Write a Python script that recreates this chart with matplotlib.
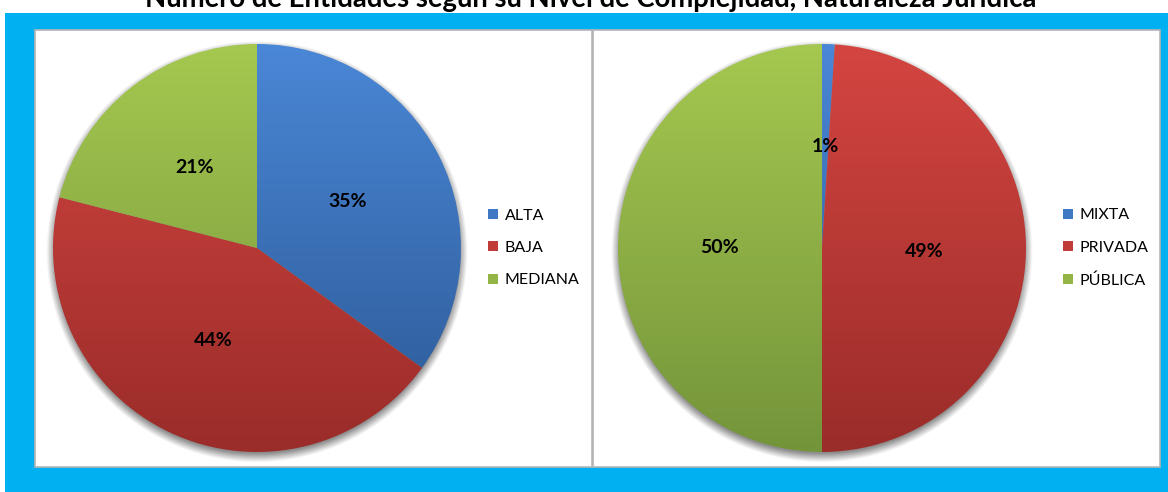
import numpy as np
import matplotlib.pyplot as plt
from matplotlib.colors import LinearSegmentedColormap
from matplotlib.patches import Rectangle, Patch

W, H = 1168, 492

TITLE = "Número de Entidades según su Nivel de Complejidad, Naturaleza Jurídica"

complejidad_labels = ["ALTA", "BAJA", "MEDIANA"]
complejidad_values = [35, 44, 21]

naturaleza_labels = ["MIXTA", "PRIVADA", "PÚBLICA"]
naturaleza_values = [1, 49, 50]

# (top, bottom) of the vertical gradient on each slice
SLICE_COLORS = [("#4a87d6", "#2b5894"), ("#d44541", "#9a2c29"), ("#a5c850", "#74943a")]
LEGEND_COLORS = ["#3f78c3", "#c13c39", "#93b546"]

plt.rcParams["font.family"] = ["Lato", "DejaVu Sans"]


def px_axes(fig, left, top, w, h):
    return fig.add_axes([left / W, 1 - (top + h) / H, w / W, h / H])


def draw_pie(fig, cx, cy, r, values, labels, legend_left):
    pad = 14
    ax = px_axes(fig, cx - r - pad, cy - r - pad, 2 * (r + pad), 2 * (r + pad))
    ax.set_zorder(2)
    lim = (r + pad) / r

    # soft shadow under the pie
    n = 400
    xs = np.linspace(-lim, lim, n)
    X, Y = np.meshgrid(xs, xs[::-1])
    d = np.hypot(X, Y + 0.018)
    alpha = np.clip((1.035 - d) / 0.045, 0, 1) * 0.45
    shadow = np.zeros((n, n, 4))
    shadow[..., 3] = alpha
    ax.imshow(shadow, extent=(-lim, lim, -lim, lim), zorder=0, interpolation="bilinear")

    wedges, _, autotexts = ax.pie(
        values, startangle=90, counterclock=False, autopct="%1.0f%%",
        pctdistance=0.5, radius=1,
        textprops=dict(fontsize=14, fontweight="bold", color="black"),
        wedgeprops=dict(linewidth=0),
    )

    grad = np.linspace(1, 0, 256).reshape(-1, 1)
    for wedge, (top, bottom) in zip(wedges, SLICE_COLORS):
        cmap = LinearSegmentedColormap.from_list("g", [bottom, top])
        im = ax.imshow(grad, extent=(-1, 1, -1, 1), cmap=cmap, aspect="auto",
                       zorder=2, interpolation="bilinear")
        im.set_clip_path(wedge)
        wedge.set_facecolor("none")
    for t in autotexts:
        t.set_zorder(5)

    ax.set_xlim(-lim, lim)
    ax.set_ylim(-lim, lim)
    ax.set_aspect("equal")
    ax.axis("off")

    handles = [Patch(facecolor=c, edgecolor="none") for c in LEGEND_COLORS]
    leg = fig.legend(handles, labels, loc="center left",
                     bbox_to_anchor=(legend_left / W, 1 - cy / H),
                     frameon=False, fontsize=11.5, handlelength=0.6, handleheight=0.6,
                     handletextpad=0.45, labelspacing=1.15, borderpad=0)
    leg.set_zorder(3)


fig = plt.figure(figsize=(W / 100, H / 100), dpi=100)
fig.patch.set_facecolor("white")

# cyan frame and the two white panels
fig.add_artist(Rectangle((5 / W, 0), 1 - 5 / W, (H - 13) / H, zorder=-2,
                         transform=fig.transFigure, facecolor="#00b0f0", edgecolor="none"))
for left, right in [(35, 592), (593, 1160)]:
    fig.add_artist(Rectangle((left / W, 1 - 467 / H), (right - left) / W, (467 - 30) / H,
                             transform=fig.transFigure, facecolor="white", zorder=-1,
                             edgecolor="#b5b5b5", linewidth=1.2))

fig.text(0.506, 1 - 7 / H, TITLE, ha="center", va="baseline",
         fontsize=19.8, fontweight="bold", color="black")

draw_pie(fig, 257, 248, 204, complejidad_values, complejidad_labels, 480)
draw_pie(fig, 822, 248, 204, naturaleza_values, naturaleza_labels, 1055)

fig.savefig("out.png", dpi=100)
